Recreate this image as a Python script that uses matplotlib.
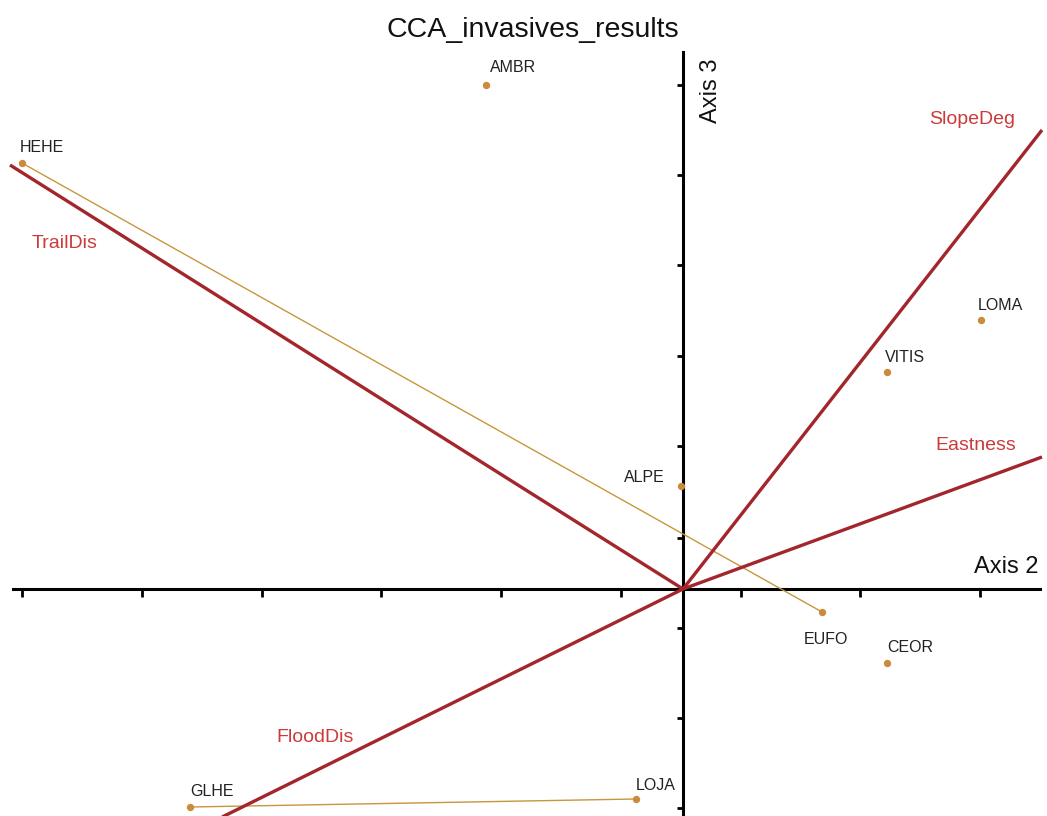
import matplotlib
matplotlib.use("Agg")
import matplotlib.pyplot as plt

plt.rcParams["font.family"] = ["Liberation Sans", "DejaVu Sans"]

# species scores (Axis 2, Axis 3)
species = ["AMBR", "HEHE", "LOMA", "VITIS", "ALPE", "EUFO", "CEOR", "GLHE", "LOJA"]
axis2 = [-1.97, -6.61, 2.98, 2.04, -0.02, 1.39, 2.04, -4.93, -0.47]
axis3 = [5.04, 4.26, 2.69, 2.17, 1.03, -0.23, -0.74, -2.18, -2.10]

# label offsets in pixels (dx, dy)
label_offsets = {
    "AMBR": (4, 17), "HEHE": (-2, 16), "LOMA": (-3, 14), "VITIS": (-2, 15),
    "ALPE": (-57, 9), "EUFO": (-18, -28), "CEOR": (0, 15), "GLHE": (0, 15),
    "LOJA": (0, 14),
}

# joined species
joins = [("HEHE", "EUFO"), ("GLHE", "LOJA")]

# environmental vectors
env_vars = ["SlopeDeg", "Eastness", "TrailDis", "FloodDis"]
env_x = [3.59, 3.59, -6.73, -4.75]
env_y = [4.59, 1.32, 4.24, -2.35]
env_label_x = [2.89, 2.93, -6.18, -3.68]
env_label_y = [4.69, 1.43, 3.45, -1.48]

x_ticks = [-6.61, -5.41, -4.21, -3.02, -1.82, -0.62, 0.58, 1.77, 2.97]
y_ticks = [5.04, 4.14, 3.24, 2.33, 1.43, 0.51, -0.39, -1.29, -2.19]

pt_color = "#cc8a3c"
vec_color = "#a3262c"
vec_label_color = "#cc3a3a"

fig = plt.figure(figsize=(10.47, 8.16), dpi=100)
ax = fig.add_axes([0, 0, 1, 1])
ax.set_xlim(-6.83, 3.64)
ax.set_ylim(-2.27, 5.89)
ax.axis("off")

# axes lines
ax.plot([-6.70, 3.57], [0, 0], color="black", lw=2.2, zorder=2)
ax.plot([0, 0], [-2.4, 5.37], color="black", lw=2.2, zorder=2)
ax.vlines(x_ticks, -0.075, 0, color="black", lw=2.0, zorder=2)
ax.hlines(y_ticks, -0.065, 0, color="black", lw=2.0, zorder=2)

ax.text(3.23, 0.22, "Axis 2", fontsize=17, ha="center", va="center", color="#111111")
ax.text(0.28, 4.98, "Axis 3", fontsize=17, ha="center", va="center",
        rotation=90, color="#111111")

idx = {s: i for i, s in enumerate(species)}
for a, b in joins:
    ax.plot([axis2[idx[a]], axis2[idx[b]]], [axis3[idx[a]], axis3[idx[b]]],
            color="#c8963c", lw=1.0, zorder=3)

# environmental vectors
for name, ex, ey, lx, ly in zip(env_vars, env_x, env_y, env_label_x, env_label_y):
    ax.plot([0, ex], [0, ey], color=vec_color, lw=2.4, zorder=4,
            solid_capstyle="butt")
    ax.text(lx, ly, name, fontsize=14, color=vec_label_color,
            ha="center", va="center", zorder=5)

# species points
ax.scatter(axis2, axis3, s=28, color=pt_color, zorder=6, linewidths=0)
for s, x, y in zip(species, axis2, axis3):
    dx, dy = label_offsets[s]
    ax.annotate(s, (x, y), xytext=(dx, dy), textcoords="offset pixels",
                fontsize=11.5, color="#222222", ha="left", va="center", zorder=7)

fig.text(0.509, 0.963, "CCA_invasives_results", fontsize=20.5, ha="center",
         va="center", color="#111111")

fig.savefig("out.png", dpi=100)
